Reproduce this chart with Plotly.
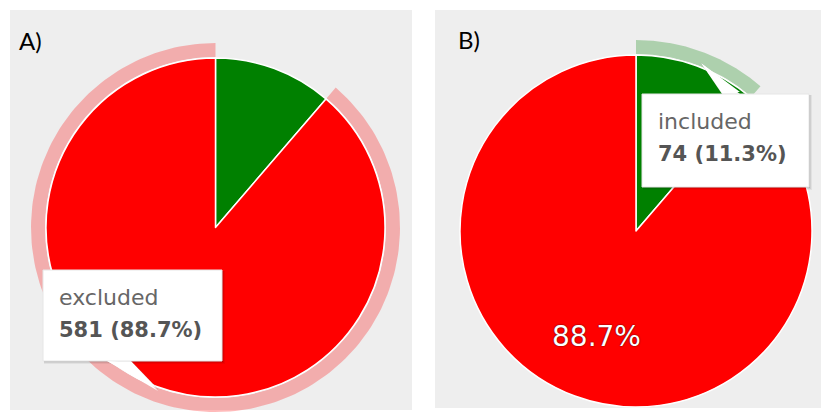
import numpy as np
import plotly.graph_objects as go

# ---- data -------------------------------------------------------------
labels = ["included", "excluded"]
counts = [74, 581]
slice_colors = ["#008000", "#ff0000"]
halo_colors = ["rgba(0,128,0,0.27)", "rgba(255,0,0,0.27)"]
panel_titles = ["A)", "B)"]
highlighted = [1, 0]          # slice shown with halo + tooltip in each panel

# ---- layout geometry (pixels, origin top-left) -------------------------
W, H = 821, 414
panels = [
    dict(box=(10, 10, 412, 410), cx=215.5, cy=227.5, r=169.5,
         title_xy=(17, 40), tip_box=(43, 270, 222, 361),
         pointer=[(107, 361), (131, 361), (158, 389)], show_pct=False),
    dict(box=(435, 10, 821, 408), cx=636, cy=231, r=176,
         title_xy=(456, 39), tip_box=(642, 94, 809, 187),
         pointer=[(701, 63), (722, 94), (740, 94)], show_pct=True),
]
FONT = "DejaVu Sans"

total = sum(counts)
fracs = [c / total for c in counts]
cum = np.concatenate([[0], np.cumsum(fracs)])

fig = go.Figure()
shapes, annotations = [], []


def to_dom(cx, cy, r):
    return dict(x=[(cx - r) / W, (cx + r) / W],
                y=[1 - (cy + r) / H, 1 - (cy - r) / H])


for p, title, hi in zip(panels, panel_titles, highlighted):
    x0, y0, x1, y1 = p["box"]
    shapes.append(dict(type="rect", xref="x", yref="y", x0=x0, y0=y0, x1=x1, y1=y1,
                       fillcolor="#eeeeee", line=dict(width=0), layer="below"))

    # halo ring around the highlighted slice
    a0, a1 = cum[hi] * 2 * np.pi, cum[hi + 1] * 2 * np.pi
    th = np.linspace(a0, a1, 200)
    r_in, r_out = p["r"] + 1.0, p["r"] + 15.0
    hx = np.concatenate([p["cx"] + r_out * np.sin(th), p["cx"] + r_in * np.sin(th[::-1])])
    hy = np.concatenate([p["cy"] - r_out * np.cos(th), p["cy"] - r_in * np.cos(th[::-1])])
    fig.add_trace(go.Scatter(x=hx, y=hy, mode="lines", fill="toself",
                             fillcolor=halo_colors[hi], line=dict(width=0),
                             hoverinfo="skip", showlegend=False))

    # the pie itself
    fig.add_trace(go.Pie(
        labels=labels, values=counts, sort=False, direction="clockwise", rotation=0,
        marker=dict(colors=slice_colors, line=dict(color="white", width=1.5)),
        textinfo="none", domain=to_dom(p["cx"], p["cy"], p["r"]),
        hoverinfo="none", showlegend=False,
    ))

    # percentage data label inside the large slice, placed along its mid-angle
    if p["show_pct"]:
        big = int(np.argmax(counts))
        mid = (cum[big] + cum[big + 1]) * np.pi
        rr = 0.64 * p["r"]
        annotations.append(dict(
            x=p["cx"] + rr * np.sin(mid), y=p["cy"] - rr * np.cos(mid),
            xref="x", yref="y", showarrow=False, xanchor="center", yanchor="middle",
            text=f"{100 * fracs[big]:.1f}%",
            font=dict(family=FONT, size=28, color="white",
                      shadow="0px 0px 1.5px rgba(0,0,0,0.9)")))

    # tooltip: shadow, pointer, box
    bx0, by0, bx1, by1 = p["tip_box"]
    for k, a in [(3, 0.05), (2, 0.08), (1, 0.12)]:
        shapes.append(dict(type="rect", xref="x", yref="y", x0=bx0 + 1, y0=by0 + 1,
                           x1=bx1 + k, y1=by1 + k, fillcolor=f"rgba(0,0,0,{a})",
                           line=dict(width=0), layer="above"))
    (px0, py0), (px1, py1), (px2, py2) = p["pointer"]
    shapes.append(dict(type="path", xref="x", yref="y",
                       path=f"M{px0},{py0} L{px1},{py1} L{px2},{py2} Z",
                       fillcolor="white", line=dict(color="rgba(0,0,0,0.08)", width=1),
                       layer="above"))
    shapes.append(dict(type="rect", xref="x", yref="y", x0=bx0, y0=by0, x1=bx1, y1=by1,
                       fillcolor="white", line=dict(color="#e6e6e6", width=1), layer="above"))
    shapes.append(dict(type="path", xref="x", yref="y",
                       path=f"M{px0},{py0} L{px1},{py1 - (2 if py1 > py0 else -2)} "
                            f"L{px2},{py2 - (2 if py1 > py0 else -2)} Z",
                       fillcolor="white", line=dict(width=0), layer="above"))

    pct = 100 * fracs[hi]
    annotations.append(dict(x=bx0 + 14, y=by0 + 27, xref="x", yref="y", showarrow=False,
                            xanchor="left", yanchor="middle", text=labels[hi],
                            font=dict(family=FONT, size=22, color="#666666")))
    annotations.append(dict(x=bx0 + 14, y=by0 + 60, xref="x", yref="y", showarrow=False,
                            xanchor="left", yanchor="middle",
                            text=f"<b>{counts[hi]} ({pct:.1f}%)</b>",
                            font=dict(family=FONT, size=21, color="#555555")))

    annotations.append(dict(x=p["title_xy"][0], y=p["title_xy"][1], xref="x", yref="y",
                            showarrow=False, xanchor="left", yanchor="middle", text=title,
                            font=dict(family="Lato", size=24, color="black")))

fig.update_layout(
    width=W, height=H, margin=dict(l=0, r=0, t=0, b=0),
    paper_bgcolor="white", plot_bgcolor="white",
    xaxis=dict(range=[0, W], visible=False, fixedrange=True, domain=[0, 1]),
    yaxis=dict(range=[H, 0], visible=False, fixedrange=True, domain=[0, 1]),
    shapes=shapes, annotations=annotations, showlegend=False,
)

fig.write_html("out.html")
